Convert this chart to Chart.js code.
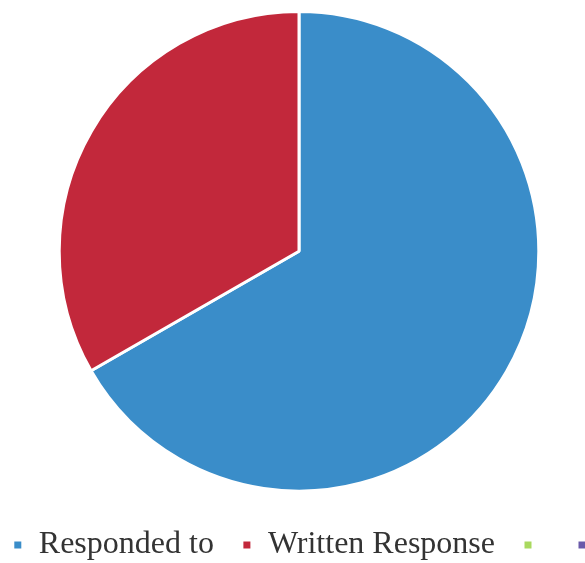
<!DOCTYPE html>
<html>
<head>
<meta charset="utf-8">
<script src="https://cdn.jsdelivr.net/npm/chart.js@4/dist/chart.umd.min.js"></script>
<style>
  html, body { margin: 0; padding: 0; background: #fff; overflow: hidden; }
  #wrap { width: 664px; height: 571px; margin-left: -33px; }
</style>
</head>
<body>
<div id="wrap"><canvas id="pieChart" width="664" height="571"></canvas></div>
<script>
// values (blue ~ 2/3, red ~ 1/3, two empty series)
const labels = ["Responded to", "Written Response", "", ""]
const values = [66.7, 33.3, 0, 0]
const colors = ["#3a8dc9", "#c2283b", "#a9d95f", "#6a5aaa"]

const ctx = document.getElementById("pieChart").getContext("2d")
new Chart(ctx, {
    type: 'pie',
    data: {
        labels: labels,
        datasets: [{
            data: values,
            backgroundColor: colors,
            borderColor: "#ffffff",
            borderWidth: 3,
        }]
    },
    options: {
        responsive: false,
        animation: false,
        layout: { padding: { top: 10 } },
        plugins: {
            tooltip: { enabled: false },
            legend: {
                position: 'bottom',
                align: 'end',
                // empty title only used as vertical spacer
                title: { display: true, text: ' ', font: { size: 2 }, padding: 3 },
                labels: {
                    boxWidth: 10,
                    boxHeight: 10,
                    padding: 28,
                    color: "#333333",
                    font: { family: "'Liberation Serif', serif", size: 32 },
                }
            }
        }
    }
})
</script>
</body>
</html>
